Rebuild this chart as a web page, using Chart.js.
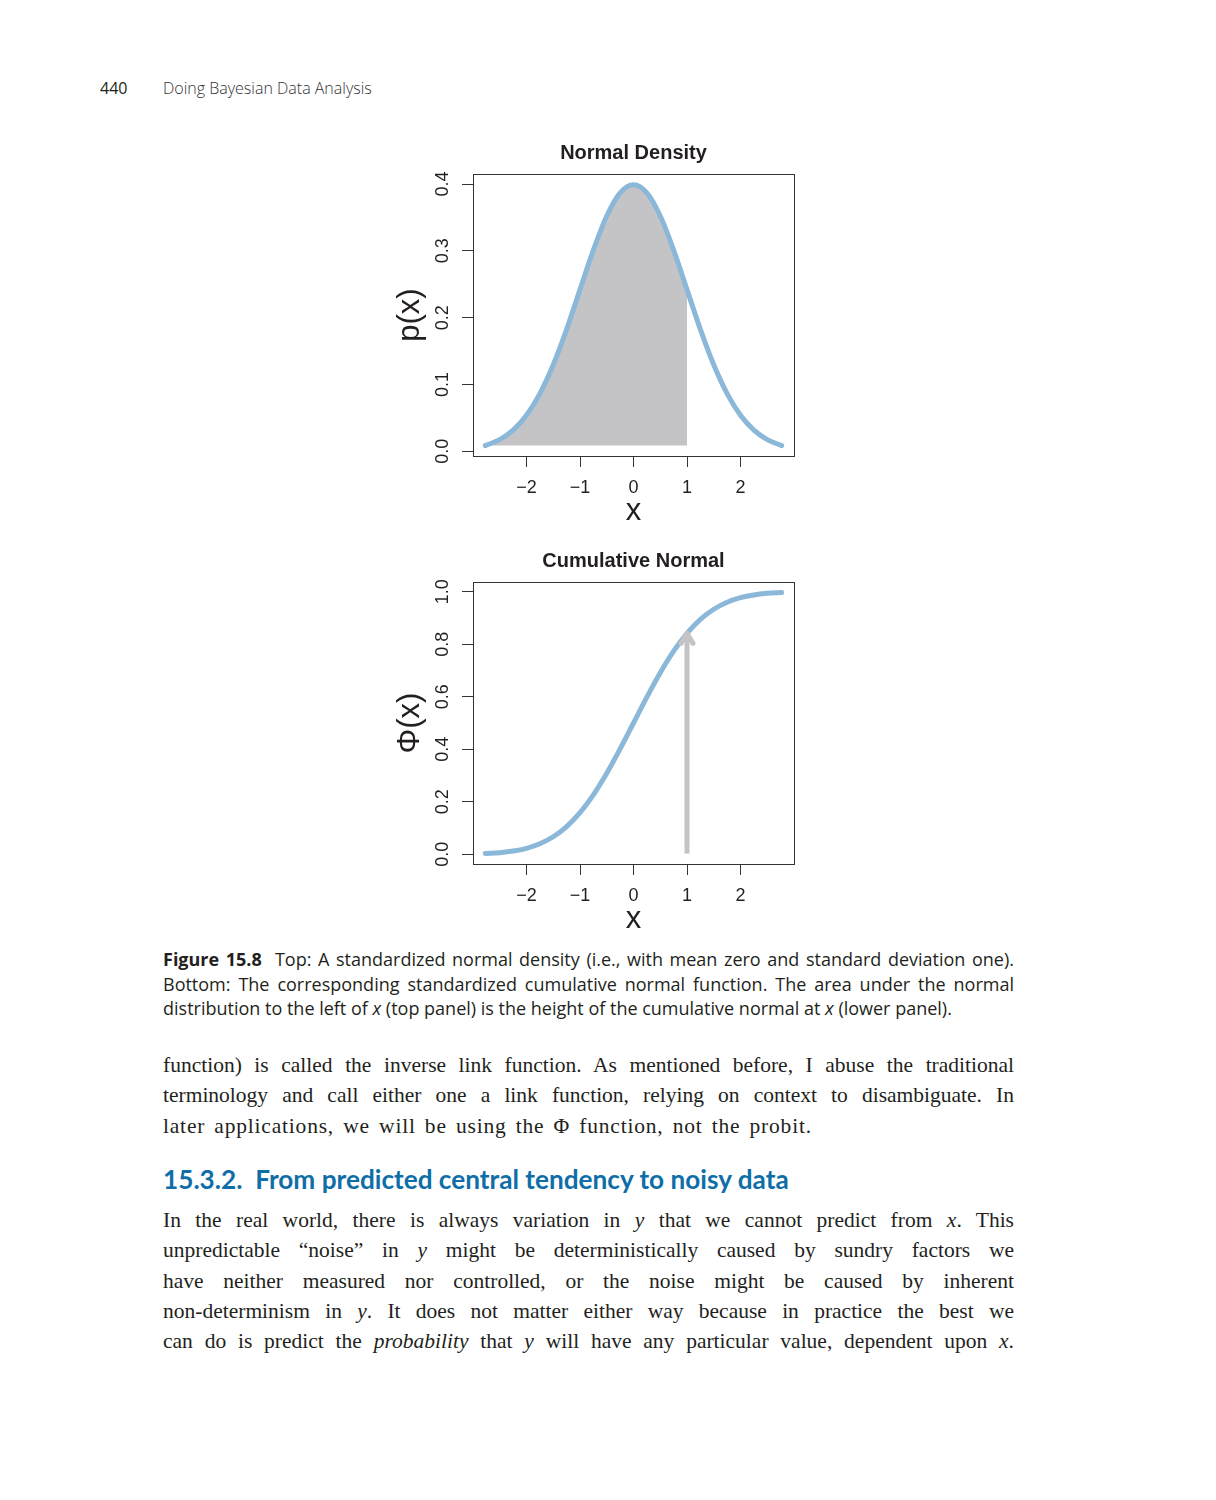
<!DOCTYPE html>
<html>
<head>
<meta charset="utf-8">
<title>Normal density and cumulative normal</title>
<script src="https://cdn.jsdelivr.net/npm/chart.js@4/dist/chart.umd.min.js"></script>
<style>
    body { margin: 0; background: #fff; color: #231f20; }
    .page { position: relative; width: 1216px; height: 1500px; }
    .abs { position: absolute; }
    .hdr { font-family: "Open Sans", sans-serif; font-size: 16px; top: 77px; }
    .hdr.title { font-weight: 300; color: #333; }
    .plot { position: absolute; left: 380px; }
    .caption { left: 163px; width: 851px; top: 947px; font-family: "Open Sans", sans-serif; font-size: 18px; line-height: 24.5px; }
    .text { left: 163px; width: 851px; font-family: "Liberation Serif", serif; font-size: 21.5px; line-height: 30.3px; }
    .caption div, .text div { white-space: nowrap; }
    .j { text-align: justify; text-align-last: justify; }
    .loose { letter-spacing: 0.8px; word-spacing: 3px; }
    .heading { left: 163px; top: 1163px; font-family: Lato, sans-serif; font-weight: 700; font-size: 26.2px; color: #0f6ea7; white-space: nowrap; }
</style>
</head>
<body>
<div class="page">
    <div class="abs hdr" style="left:100px">440</div>
    <div class="abs hdr title" style="left:163px">Doing Bayesian Data Analysis</div>

    <canvas id="density" class="plot" width="430" height="400" style="top:130px"></canvas>
    <canvas id="cumulative" class="plot" width="430" height="400" style="top:538px"></canvas>

    <div class="abs caption">
        <div class="j"><b>Figure 15.8</b>&nbsp; Top: A standardized normal density (i.e., with mean zero and standard deviation one).</div>
        <div class="j">Bottom: The corresponding standardized cumulative normal function. The area under the normal</div>
        <div>distribution to the left of <i>x</i> (top panel) is the height of the cumulative normal at <i>x</i> (lower panel).</div>
    </div>

    <div class="abs text" style="top:1050px">
        <div class="j">function) is called the inverse link function. As mentioned before, I abuse the traditional</div>
        <div class="j">terminology and call either one a link function, relying on context to disambiguate. In</div>
        <div class="loose">later applications, we will be using the Φ function, not the probit.</div>
    </div>

    <div class="abs heading">15.3.2.&nbsp; From predicted central tendency to noisy data</div>

    <div class="abs text" style="top:1205px">
        <div class="j">In the real world, there is always variation in <i>y</i> that we cannot predict from <i>x</i>. This</div>
        <div class="j">unpredictable “noise” in <i>y</i> might be deterministically caused by sundry factors we</div>
        <div class="j">have neither measured nor controlled, or the noise might be caused by inherent</div>
        <div class="j">non-determinism in <i>y</i>. It does not matter either way because in practice the best we</div>
        <div class="j">can do is predict the <i>probability</i> that <i>y</i> will have any particular value, dependent upon <i>x</i>.</div>
    </div>
</div>

<script>
// values
const xValues = [-2.77, -2.5, -2.25, -2, -1.75, -1.5, -1.25, -1, -0.75, -0.5, -0.25, 0,
                 0.25, 0.5, 0.75, 1, 1.25, 1.5, 1.75, 2, 2.25, 2.5, 2.77];
const densityValues = [0.0086, 0.0175, 0.0317, 0.054, 0.0863, 0.1295, 0.1826, 0.242, 0.3011, 0.3521, 0.3867, 0.3989,
                       0.3867, 0.3521, 0.3011, 0.242, 0.1826, 0.1295, 0.0863, 0.054, 0.0317, 0.0175, 0.0086];
const cumulativeValues = [0.0028, 0.0062, 0.0122, 0.0228, 0.0401, 0.0668, 0.1056, 0.1587, 0.2266, 0.3085, 0.4013, 0.5,
                          0.5987, 0.6915, 0.7734, 0.8413, 0.8944, 0.9332, 0.9599, 0.9772, 0.9878, 0.9938, 0.9972];
const xTicks = [-2, -1, 0, 1, 2];
const densityTicks = [0, 0.1, 0.2, 0.3, 0.4];
const cumulativeTicks = [0, 0.2, 0.4, 0.6, 0.8, 1.0];
const cutoff = 1;            // shaded area / arrow at x = 1
const shadeBase = 0.0086;    // bottom of the grey polygon
const arrowStart = 0.0028;
const arrowEnd = 0.8413;

const CURVE = '#8bb8d9';
const GREY = '#c4c4c6';
const INK = '#231f20';
const FONT = '"Liberation Sans", Arial, sans-serif';

const toPoints = (ys) => xValues.map((x, i) => ({ x: x, y: ys[i] }));
const minus = (s) => String(s).replace('-', '\u2212');

// R style: box round the plot region, title over the plot region,
// y labels turned parallel to the axis
const rFrame = {
    id: 'rFrame',
    afterDraw(chart, args, opts) {
        const { ctx, chartArea: a } = chart;
        const y = chart.scales.y;
        ctx.save();
        ctx.strokeStyle = '#333';
        ctx.lineWidth = 1;
        ctx.strokeRect(a.left + 0.5, a.top + 0.5, a.right - a.left, a.bottom - a.top);
        ctx.fillStyle = INK;
        ctx.textAlign = 'center';
        ctx.textBaseline = 'middle';
        ctx.font = 'bold 20px ' + FONT;
        ctx.fillText(opts.title, (a.left + a.right) / 2, a.top - 21);
        ctx.font = '18px ' + FONT;
        opts.ticks.forEach(v => {
            ctx.save();
            ctx.translate(a.left - 30, y.getPixelForValue(v));
            ctx.rotate(-Math.PI / 2);
            ctx.fillText(v.toFixed(1), 0, 0);
            ctx.restore();
        });
        ctx.restore();
    }
};

const arrowHead = {
    id: 'arrowHead',
    afterDatasetsDraw(chart, args, opts) {
        if (!opts.dataset) return;
        const meta = chart.getDatasetMeta(opts.dataset);
        const tip = meta.data[meta.data.length - 1];
        const ctx = chart.ctx;
        ctx.save();
        ctx.strokeStyle = GREY;
        ctx.lineWidth = 5;
        ctx.lineCap = 'round';
        ctx.lineJoin = 'round';
        ctx.beginPath();
        ctx.moveTo(tip.x - 6, tip.y + 10);
        ctx.lineTo(tip.x, tip.y);
        ctx.lineTo(tip.x + 6, tip.y + 10);
        ctx.stroke();
        ctx.restore();
    }
};

function makeOptions(title, yTitle, yMin, yMax, yTicks, arrowIndex) {
    return {
        responsive: false,
        animation: false,
        layout: { padding: { left: 0, right: 16, top: 44, bottom: 0 } },
        plugins: {
            legend: { display: false },
            tooltip: { enabled: false },
            title: { display: false },
            rFrame: { ticks: yTicks, title: title },
            arrowHead: { dataset: arrowIndex }
        },
        scales: {
            x: {
                type: 'linear', min: -3, max: 3,
                afterBuildTicks: s => { s.ticks = xTicks.map(v => ({ value: v })); },
                afterFit: s => { s.height = 74; },
                grid: { drawOnChartArea: false, tickLength: 11, color: '#333' },
                border: { color: '#333' },
                ticks: {
                    color: INK, padding: 10, autoSkip: false, maxRotation: 0,
                    font: { family: FONT, size: 18 },
                    callback: v => minus(v)
                },
                title: { display: true, text: 'x', color: INK, font: { family: FONT, size: 31 }, padding: { top: 3, bottom: 0 } }
            },
            y: {
                type: 'linear', min: yMin, max: yMax,
                afterBuildTicks: s => { s.ticks = yTicks.map(v => ({ value: v })); },
                afterFit: s => { s.width = 93; },
                grid: { drawOnChartArea: false, tickLength: 11, color: '#333' },
                border: { color: '#333' },
                ticks: { display: false },
                title: { display: true, text: yTitle, color: INK, font: { family: FONT, size: 31 }, padding: { top: 12, bottom: 0 } }
            }
        }
    };
}

const curveStyle = {
    borderColor: CURVE, borderWidth: 5, borderCapStyle: 'round',
    pointRadius: 0, cubicInterpolationMode: 'monotone', fill: false
};

new Chart(document.getElementById('density'), {
    type: 'line',
    data: {
        datasets: [
            Object.assign({ label: 'p(x)', data: toPoints(densityValues) }, curveStyle),
            {
                label: 'area left of x',
                data: toPoints(densityValues).filter(p => p.x <= cutoff),
                borderWidth: 0, pointRadius: 0, cubicInterpolationMode: 'monotone',
                backgroundColor: GREY, fill: { value: shadeBase }
            }
        ]
    },
    options: makeOptions('Normal Density', 'p(x)', -0.007, 0.415, densityTicks),
    plugins: [rFrame, arrowHead]
});

new Chart(document.getElementById('cumulative'), {
    type: 'line',
    data: {
        datasets: [
            Object.assign({ label: 'Φ(x)', data: toPoints(cumulativeValues) }, curveStyle),
            {
                label: 'arrow',
                data: [{ x: cutoff, y: arrowStart }, { x: cutoff, y: arrowEnd }],
                borderColor: GREY, borderWidth: 5, pointRadius: 0, fill: false
            }
        ]
    },
    options: makeOptions('Cumulative Normal', 'Φ(x)', -0.037, 1.037, cumulativeTicks, 1),
    plugins: [rFrame, arrowHead]
});
</script>
</body>
</html>
